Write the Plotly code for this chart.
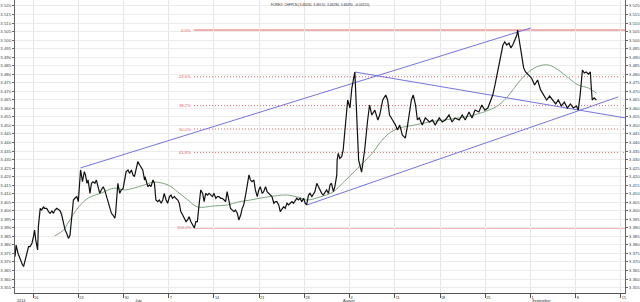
import pandas as pd
import plotly.graph_objects as go

START = pd.Timestamp("2014-06-12 00:00")

# ---- close prices (hourly chart, times in trading hours since START) ----
price_hours = [
    0, 3, 8, 14, 20, 23, 27, 32, 36, 40,
    45, 49, 52, 55, 60, 62, 67, 71, 76, 78,
    84, 89, 93, 98, 102, 106, 111, 115, 120, 124,
    128, 133, 137, 142, 146, 150, 155, 159, 164, 168,
    171, 174, 177, 179, 184, 187, 191, 194, 199, 203,
    207, 212, 216, 221, 225, 229, 234, 238, 243, 247,
    251, 256, 260, 265, 267, 269, 273, 278, 282, 287,
    291, 295, 300, 304, 309, 313, 317, 322, 326, 331,
    335, 339, 344, 345, 350, 353, 357, 361, 366, 370,
    374, 379, 383, 388, 392, 396, 401, 405, 410, 414,
    418, 423, 427, 432, 436, 440, 445, 449, 454, 458,
    462, 467, 471, 476, 480, 484, 489, 493,
    498, 502, 506, 511, 515, 520, 524, 528, 533, 537,
    541, 546, 550, 555, 559, 563, 568, 572, 577, 581,
    585, 590, 594, 599, 603, 607, 612, 616, 621, 625,
    629, 634, 638, 643, 647, 651, 656, 660, 665, 669,
    673, 678, 682, 687, 691, 695, 700, 704, 709, 713,
    717, 722, 726, 730, 735, 739, 744, 748, 752, 757,
    761, 766, 770, 774, 779, 783, 788, 792, 796, 801,
    805, 810, 814, 818, 823, 827, 832, 836, 840, 845,
    849, 854, 855, 858, 862, 867, 871,
    878, 883, 889, 894, 902, 907, 912, 920, 928, 936,
    941, 947, 955, 963, 968, 976, 984, 989, 994, 1002,
    1010, 1015, 1021, 1028, 1036, 1042, 1047, 1052, 1057, 1063,
    1068, 1073, 1081, 1089, 1100, 1108, 1115, 1126, 1134, 1142,
    1152, 1160, 1168, 1179, 1187, 1195, 1205, 1213, 1221, 1231,
    1239, 1247, 1255, 1263, 1268, 1274, 1279, 1284, 1289, 1295,
    1300, 1305, 1311, 1316, 1321, 1326, 1332, 1334, 1340, 1345,
    1350, 1355, 1363, 1371, 1379, 1387, 1395, 1403, 1411, 1419,
    1427, 1435, 1442, 1450, 1458, 1466, 1474, 1482, 1490, 1495,
    1500, 1503, 1506, 1511, 1516, 1522, 1527, 1529, 1532, 1537,
    1543,
]
price_close = [
    3.3731, 3.3799, 3.3751, 3.3712, 3.3682, 3.3676, 3.3712, 3.3770, 3.3790, 3.3790,
    3.3809, 3.3848, 3.3887, 3.3829, 3.3770, 3.3907, 3.4014, 3.4004, 3.4024, 3.4014,
    3.4014, 3.3995, 3.3985, 3.3999, 3.3985, 3.4004, 3.4014, 3.4008, 3.3999, 3.3975,
    3.3926, 3.3887, 3.3868, 3.3838, 3.3858, 3.3936, 3.4063, 3.4073, 3.4083, 3.4053,
    3.4161, 3.4239, 3.4200, 3.4170, 3.4229, 3.4210, 3.4161, 3.4180, 3.4102, 3.4161,
    3.4170, 3.4161, 3.4180, 3.4131, 3.4102, 3.4122, 3.4141, 3.4122, 3.4083, 3.4053,
    3.4034, 3.3985, 3.3975, 3.3956, 3.3985, 3.4044, 3.4161, 3.4102, 3.4122, 3.4131,
    3.4190, 3.4229, 3.4239, 3.4219, 3.4239, 3.4210, 3.4200, 3.4249, 3.4288, 3.4268,
    3.4249, 3.4239, 3.4180, 3.4200, 3.4161, 3.4141, 3.4151, 3.4141, 3.4180, 3.4161,
    3.4063, 3.4053, 3.4063, 3.4044, 3.4063, 3.4102, 3.4063, 3.4044, 3.4083, 3.4092,
    3.4073, 3.4083, 3.4073, 3.4063, 3.4044, 3.3995, 3.3975, 3.3956, 3.3936, 3.3946,
    3.3965, 3.3936, 3.3917, 3.3899, 3.3936, 3.3936, 3.4044, 3.4122,
    3.4102, 3.4053, 3.4102, 3.4092, 3.4102, 3.4092, 3.4083, 3.4102, 3.4073, 3.4083,
    3.4083, 3.4073, 3.4073, 3.4063, 3.4053, 3.4112, 3.4044, 3.4014, 3.4004, 3.3995,
    3.4004, 3.3985, 3.3946, 3.3975, 3.4014, 3.4034, 3.4092, 3.4141, 3.4210, 3.4180,
    3.4170, 3.4180, 3.4122, 3.4083, 3.4122, 3.4141, 3.4102, 3.4112, 3.4141, 3.4112,
    3.4102, 3.4092, 3.4083, 3.4044, 3.4053, 3.4053, 3.4034, 3.3995, 3.4014, 3.4024,
    3.4014, 3.4044, 3.4034, 3.4044, 3.4053, 3.4044, 3.4063, 3.4073, 3.4063, 3.4073,
    3.4053, 3.4073, 3.4044, 3.4034, 3.4092, 3.4102, 3.4083, 3.4102, 3.4112, 3.4161,
    3.4141, 3.4112, 3.4102, 3.4092, 3.4112, 3.4122, 3.4102, 3.4151, 3.4161, 3.4112,
    3.4141, 3.4210, 3.4297, 3.4336, 3.4307, 3.4317, 3.4356,
    3.4532, 3.4649, 3.4602, 3.4719, 3.4813, 3.4590, 3.4297, 3.4227, 3.4356, 3.4532,
    3.4620, 3.4561, 3.4590, 3.4532, 3.4561, 3.4649, 3.4678, 3.4649, 3.4561, 3.4532,
    3.4502, 3.4473, 3.4502, 3.4444, 3.4426, 3.4502, 3.4590, 3.4649, 3.4678, 3.4620,
    3.4532, 3.4544, 3.4502, 3.4544, 3.4520, 3.4532, 3.4502, 3.4544, 3.4520, 3.4532,
    3.4561, 3.4520, 3.4544, 3.4532, 3.4561, 3.4532, 3.4579, 3.4544, 3.4590, 3.4579,
    3.4620, 3.4590, 3.4602, 3.4649, 3.4678, 3.4737, 3.4795, 3.4854, 3.4913, 3.4971,
    3.4989, 3.4971, 3.4983, 3.4954, 3.4971, 3.5001, 3.5030, 3.5059, 3.4971, 3.4883,
    3.4837, 3.4813, 3.4795, 3.4778, 3.4737, 3.4766, 3.4708, 3.4678, 3.4649, 3.4672,
    3.4649, 3.4626, 3.4649, 3.4614, 3.4637, 3.4602, 3.4626, 3.4602, 3.4614, 3.4590,
    3.4678, 3.4784, 3.4825, 3.4807, 3.4813, 3.4801, 3.4813, 3.4737, 3.4649, 3.4661,
    3.4649,
]

# ---- moving average ----
ma_hours = [105, 129, 142, 169, 195, 229, 264, 290, 316, 343, 369, 406, 432, 459,
            485, 527, 564, 591, 625, 670, 723, 757, 775, 810, 844, 870, 897, 923,
            949, 968, 994, 1021, 1060, 1100, 1139, 1179, 1218, 1258, 1284, 1311,
            1337, 1363, 1390, 1416, 1442, 1469, 1495, 1522, 1543]
ma_values = [3.3852, 3.3887, 3.3934, 3.4022, 3.4075, 3.4104, 3.4133, 3.4122, 3.4133,
             3.4151, 3.4168, 3.4151, 3.4110, 3.4063, 3.4022, 3.4028, 3.4034, 3.4051,
             3.4063, 3.4081, 3.4092, 3.4075, 3.4063, 3.4081, 3.4110, 3.4163, 3.4221,
             3.4280, 3.4338, 3.4397, 3.4456, 3.4485, 3.4502, 3.4520, 3.4532, 3.4544,
             3.4561, 3.4590, 3.4620, 3.4678, 3.4754, 3.4813, 3.4848, 3.4854, 3.4825,
             3.4778, 3.4737, 3.4719, 3.4690]

# ---- drawn trend lines: (start hour, end hour), (start price, end price) ----
upper_channel_hours = [174, 1369]
upper_channel_prices = [3.4251, 3.5071]
lower_channel_hours = [775, 1601]
lower_channel_prices = [3.4034, 3.4667]
falling_line_hours = [902, 1619]
falling_line_prices = [3.4813, 3.4544]

# ---- Fibonacci retracement ----
fib_start_hour = 475
fib_high = 3.5059
fib_low = 3.3899
fib_ratios = [0.0, 0.236, 0.382, 0.5, 0.618, 1.0]
fib_labels = ["0.0%", "23.6%", "38.2%", "50.0%", "61.8%", "100.0%"]

# ---- axes ----
x_range_hours = [0, 1619]
y_range = [3.3518, 3.5235]
tick_dates = ["2014-06-16", "2014-06-23", "2014-06-30", "2014-07-07", "2014-07-14",
              "2014-07-21", "2014-07-28", "2014-08-04", "2014-08-11", "2014-08-18",
              "2014-08-25", "2014-09-01", "2014-09-08", "2014-09-15"]
tick_text = ["16", "23", "30", "7", "14", "21", "28", "4", "11", "18", "25", "1", "8", "15"]
month_dates = ["2014-06-12", "2014-07-01", "2014-08-01", "2014-09-01"]
month_text = ["2014", "July", "August", "September"]
title_text = "FOREX: CHFPLN (3.46430, 3.46510, 3.46280, 3.46490, +0.00120)"

assert len(price_hours) == len(price_close)
assert len(ma_hours) == len(ma_values)


def to_time(hours):
    return [START + pd.offsets.BDay(int(h) // 24) + pd.Timedelta(hours=int(h) % 24)
            for h in hours]


RED = "#e46464"
BLUE = "#7474e0"
FONT = "Liberation Sans, Arial, sans-serif"

fig = go.Figure()

for hrs, prs in [(upper_channel_hours, upper_channel_prices),
                 (lower_channel_hours, lower_channel_prices),
                 (falling_line_hours, falling_line_prices)]:
    fig.add_trace(go.Scatter(x=to_time(hrs), y=prs, mode="lines",
                             line=dict(color=BLUE, width=1), hoverinfo="skip"))

fig.add_trace(go.Scatter(x=to_time(ma_hours), y=ma_values, mode="lines",
                         line=dict(color="#7fa47f", width=1, shape="spline"),
                         hoverinfo="skip"))
fig.add_trace(go.Scatter(x=to_time(price_hours), y=price_close, mode="lines",
                         line=dict(color="#111111", width=1.2)))
# invisible trace to activate the left mirror axis
fig.add_trace(go.Scatter(x=to_time([0]), y=[fib_low], mode="markers",
                         marker=dict(opacity=0), yaxis="y2", hoverinfo="skip"))

t_fib0 = to_time([fib_start_hour])[0]
t_end = to_time([x_range_hours[1]])[0]
for r, lab in zip(fib_ratios, fib_labels):
    lvl = fib_high - r * (fib_high - fib_low)
    solid = r in (0.0, 1.0)
    fig.add_shape(type="line", xref="x", yref="y", x0=t_fib0, x1=t_end, y0=lvl, y1=lvl,
                  line=dict(color=RED, width=1, dash="solid" if solid else "1px,2px"),
                  layer="below")
    fig.add_annotation(x=t_fib0, y=lvl, xref="x", yref="y", text=lab, showarrow=False,
                       xanchor="right", yanchor="middle", xshift=-1,
                       font=dict(size=4.2, color=RED, family=FONT))

for d, txt in zip(month_dates, month_text):
    fig.add_annotation(x=pd.Timestamp(d), y=0, xref="x", yref="paper", text=txt,
                       showarrow=False, xanchor="left", yanchor="top", yshift=-4,
                       font=dict(size=3.8, color="#333", family=FONT))

fig.add_annotation(x=0.5, y=1, xref="paper", yref="paper", text=title_text,
                   showarrow=False, xanchor="center", yanchor="top", yshift=-1,
                   font=dict(size=3.3, color="#333", family=FONT))

yaxis_common = dict(range=y_range, dtick=0.005, tick0=3.35, tickformat=".3f",
                    ticks="outside", ticklen=2, tickcolor="#666",
                    tickfont=dict(size=4.3, color="#444", family=FONT),
                    showline=True, linecolor="#666", linewidth=1, zeroline=False)

fig.update_layout(
    width=640, height=302,
    margin=dict(l=13, r=13, t=0, b=9),
    paper_bgcolor="white", plot_bgcolor="white", showlegend=False,
    xaxis=dict(type="date", range=[to_time([x_range_hours[0]])[0], t_end],
               rangebreaks=[dict(bounds=["sat", "mon"])],
               tickvals=[pd.Timestamp(d) for d in tick_dates], ticktext=tick_text,
               ticks="outside", ticklen=4, tickcolor="#555",
               ticklabelposition="outside right",
               tickfont=dict(size=3.8, color="#333", family=FONT),
               showgrid=True, gridcolor="#e6e6e6", gridwidth=1,
               showline=True, linecolor="#555", linewidth=1, mirror=False),
    yaxis=dict(side="right", showgrid=True, gridcolor="#ececec", gridwidth=1,
               **yaxis_common),
    yaxis2=dict(side="left", overlaying="y", showgrid=False, **yaxis_common),
)

fig.write_html("out.html")
